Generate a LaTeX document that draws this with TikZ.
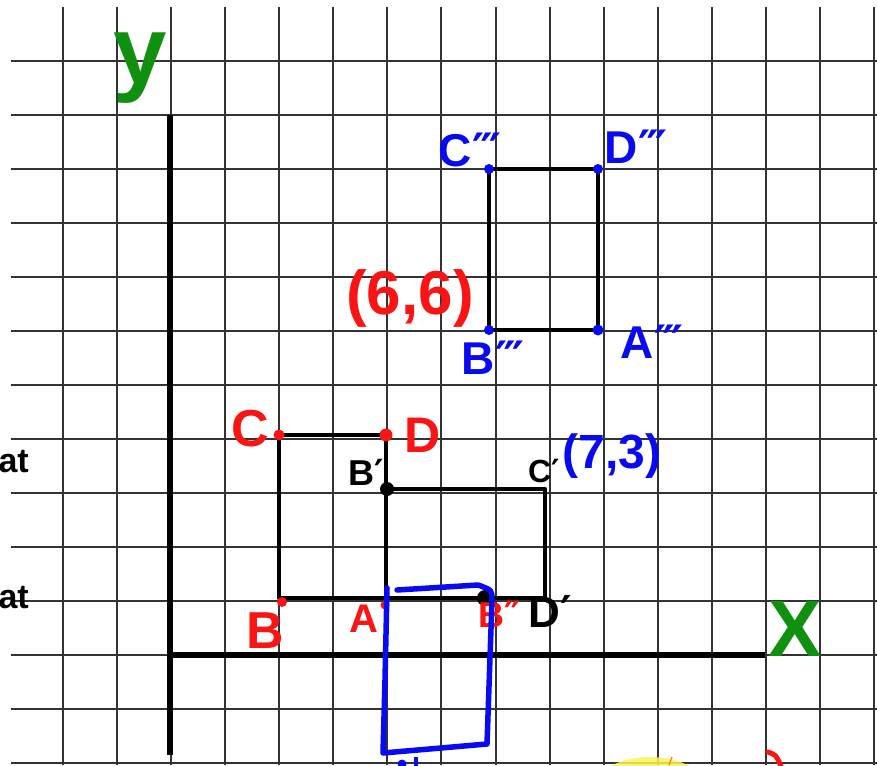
\documentclass[tikz,border=0pt]{standalone}
\usepackage{fontspec}
\setmainfont{Liberation Sans}
\newfontfamily\pf{DejaVu Sans}
\definecolor{hred}{RGB}{250,20,20}
\definecolor{hblue}{RGB}{10,10,240}
\definecolor{hgreen}{RGB}{15,145,15}
\definecolor{hyellow}{RGB}{250,245,90}
\begin{document}
\begin{tikzpicture}[x=1pt,y=-1pt,
  gridline/.style={line width=2pt,draw=black!80},
  axisline/.style={line width=6pt},
  figline/.style={line width=4.6pt,line join=round,line cap=round},
  bluefig/.style={line width=5.5pt,draw=hblue,line join=round,line cap=round},
  lbl/.style={inner sep=0pt,font=\bfseries\fontsize{#1}{#1}\selectfont},
  redlbl/.style={lbl=#1,text=hred},
  bluelbl/.style={lbl=#1,text=hblue},
  blacklbl/.style={lbl=#1,text=black},
  greenlbl/.style={lbl=#1,text=hgreen}]
\useasboundingbox (0,0) rectangle (877,765);
\clip (0,0) rectangle (877,765);
\fill[white] (0,0) rectangle (877,765);
% grid
\foreach \i in {0,...,15} \draw[gridline] ({63+54.07*\i},7) -- ({63+54.07*\i},765);
\foreach \j in {0,...,13} \draw[gridline] (11,{61+54*\j}) -- (877,{61+54*\j});
% highlighter and partial marks at the bottom
\fill[hyellow,opacity=0.85] (650,802) ellipse (66 and 45);
\draw[orange,line width=1.2pt] (672,757) -- (669,765);
\draw[hred,line width=5pt,line cap=round] (768,752) .. controls (776,755) .. (781,766);
% axes
\coordinate (O) at (170,655);
\coordinate (ytop) at (170,115);
\coordinate (ybot) at (170,755);
\coordinate (xend) at (765,655);
\draw[axisline] (ybot) -- (ytop);
\draw[axisline] (O) -- (xend);
% original rectangle ABCD
\coordinate (C) at (279,435);
\coordinate (D) at (386,435);
\coordinate (A) at (386,598);
\coordinate (B) at (279,598);
\draw[figline] (C) -- (D) -- (A) -- (B) -- cycle;
% rectangle B'C'D'A
\coordinate (B1) at (387,489);
\coordinate (C1) at (545,489);
\coordinate (D1) at (545,598);
\draw[figline] (B1) -- (C1) -- (D1) -- (A);
% top rectangle
\coordinate (C3) at (489,169);
\coordinate (D3) at (598,169);
\coordinate (A3) at (598,330);
\coordinate (B3) at (489,330);
\draw[figline] (C3) -- (D3) -- (A3) -- (B3) -- cycle;
% corner dots
\fill[hred] (C) circle (5.5);
\fill[hred] (D) circle (6.5);
\fill[hred] (282,602) circle (5);
\fill[hred] (385,605) circle (4.5);
\fill[black] (B1) circle (7);
\coordinate (B2) at (485,598);
\fill[black] (B2) circle (8);
\fill[hblue] (C3) circle (5);
\fill[hblue] (D3) circle (5);
\fill[hblue] (A3) circle (5.5);
\fill[hblue] (B3) circle (5);
% labels
\node[greenlbl=96,anchor=base,text height=1ex] (ylab) at (140,84) {y};
\node[greenlbl=80] (xlab) at (795,629) {X};
\node[blacklbl=34,anchor=east] (at1) at (29,462) {at};
\node[blacklbl=34,anchor=east] (at2) at (29,598) {at};
\node[redlbl=52] (Clab) at (250,429) {C};
\node[redlbl=50] (Dlab) at (423,435) {D};
\node[redlbl=52] (Blab) at (265,631) {B};
\node[redlbl=40] (Alab) at (364,619) {A};
\node[blacklbl=36] (B1lab) at (366,472) {B{\pf\bfseries ′}};
\node[blacklbl=32] (C1lab) at (544,471) {C{\pf\bfseries ′}};
\node[blacklbl=44] (D1lab) at (550,611) {D{\pf\bfseries ′}};
\node[redlbl=36] (B2lab) at (500,614) {B{\pf\bfseries ″}};
\node[bluelbl=48] (c73) at (612,456) {(7,3)};
\node[redlbl=62] (c66) at (410,298) {(6,6)};
\node[bluelbl=46] (C3lab) at (470,150) {C{\pf\bfseries ‴}};
\node[bluelbl=46] (D3lab) at (636,147) {D{\pf\bfseries ‴}};
\node[bluelbl=46] (B3lab) at (493,358) {B{\pf\bfseries ‴}};
\node[bluelbl=46] (A3lab) at (652,342) {A{\pf\bfseries ‴}};
% blue rectangle (drawn over)
\coordinate (P1) at (397,590);
\coordinate (P2) at (478,585);
\coordinate (P3) at (492,600);
\coordinate (P4) at (487,744);
\coordinate (P5) at (383,753);
\coordinate (P6) at (387,588);
\draw[bluefig] (P6) -- (385,680) -- (P5) -- (P4) -- (P3) .. controls (492,590) .. (P2) -- (P1);
\fill[hblue] (402,764) circle (4.5);
\draw[hblue,line width=3.5pt] (416,757) -- (416,766);
\end{tikzpicture}
\end{document}
